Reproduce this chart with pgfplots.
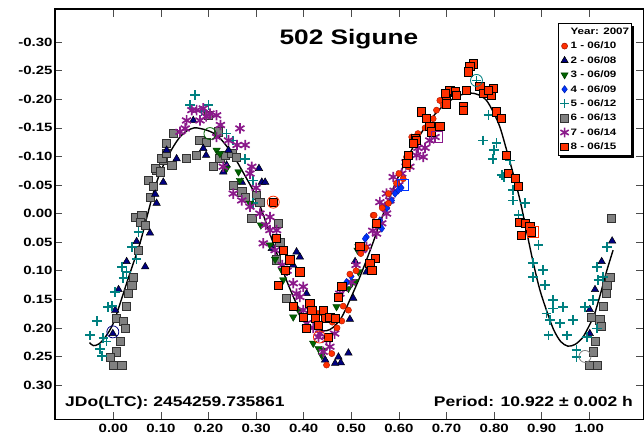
\documentclass[border=0pt]{standalone}
\usepackage{fontspec}
\setmainfont{Liberation Sans}[FakeStretch=1.25]
\usepackage{pgfplots}
\pgfplotsset{compat=1.18}
\usetikzlibrary{shadows}
\definecolor{cRed}{RGB}{255,48,0}
\definecolor{cRedE}{RGB}{170,20,0}
\definecolor{cNavy}{RGB}{0,0,128}
\definecolor{cGreen}{RGB}{0,100,0}
\definecolor{cBlue}{RGB}{0,51,255}
\definecolor{cTeal}{RGB}{0,128,128}
\definecolor{cGray}{RGB}{128,128,128}
\definecolor{cGrayE}{RGB}{50,50,50}
\definecolor{cPurple}{RGB}{139,26,139}
\begin{document}
\begin{tikzpicture}
\begin{axis}[
  scale only axis, width=588.5pt, height=410.3pt,
  xmin=-0.1225, xmax=1.1139, ymin=-0.358, ymax=0.36, y dir=reverse,
  axis line style={line width=1.3pt, black},
  tick align=inside, major tick length=7.5pt,
  tick style={black!70, line width=0.6pt},
  xtick={0,0.1,0.2,0.3,0.4,0.5,0.6,0.7,0.8,0.9,1.0},
  xticklabels={0.00,0.10,0.20,0.30,0.40,0.50,0.60,0.70,0.80,0.90,1.00},
  ytick={-0.30,-0.25,-0.20,-0.15,-0.10,-0.05,0,0.05,0.10,0.15,0.20,0.25,0.30},
  yticklabels={-0.30,-0.25,-0.20,-0.15,-0.10,-0.05,0.00,0.05,0.10,0.15,0.20,0.25,0.30},
  tick label style={font=\bfseries\fontsize{12}{12}\selectfont},
  yticklabel style={xshift=1pt},
  xticklabel style={yshift=-1pt},
  legend style={at={(axis cs:1.0897,-0.3332)}, anchor=north east,
    draw=black, line width=0.6pt, fill=white,
    font=\bfseries\fontsize{9.3}{10}\selectfont,
    row sep=0pt, inner sep=1pt,
    nodes={inner ysep=2pt, inner xsep=1.5pt, text height=8pt, text depth=2.4pt},
    drop shadow={shadow xshift=2.5pt, shadow yshift=-2.5pt, fill=black, opacity=1}},
  legend cell align=left,
  legend image code/.code={\draw[#1] plot coordinates {(0.2cm,0cm)};},
  legend entries={Year: 2007,1 - 06/10,2 - 06/08,3 - 06/09,4 - 06/09,5 - 06/12,6 - 06/13,7 - 06/14,8 - 06/15},
]
\addlegendimage{empty legend}
\addlegendimage{only marks, mark=*, mark size=3pt, mark options={fill=cRed, draw=cRedE}}
\addlegendimage{only marks, mark=triangle*, mark size=4pt, mark options={fill=cNavy, draw=black}}
\addlegendimage{only marks, mark=triangle*, mark size=4pt, mark options={fill=cGreen, draw=cGreen!60!black, rotate=180}}
\addlegendimage{only marks, mark=diamond*, mark size=3.6pt, mark options={fill=cBlue, draw=cBlue!70!black}}
\addlegendimage{only marks, mark=+, mark size=4.5pt, mark options={draw=cTeal, line width=1.6pt}}
\addlegendimage{only marks, mark=square*, mark size=3.8pt, mark options={fill=cGray, draw=cGrayE}}
\addlegendimage{only marks, mark=asterisk, mark size=4.8pt, mark options={draw=cPurple, line width=1.6pt}}
\addlegendimage{only marks, mark=square*, mark size=3.8pt, mark options={fill=cRed, draw=black}}

% 6 - gray squares
\addplot[forget plot, only marks, mark=square*, mark size=4.1pt, mark options={fill=cGray, draw=cGrayE, line width=0.7pt}] coordinates {
(0.046,0.006) (0.060,0.003) (0.056,0.015) (0.067,0.020) (0.053,0.064) (0.042,0.111) (0.039,0.125) (0.032,0.140) (0.028,0.162) (0.007,0.183) (0.021,0.188) (0.025,0.201) (0.014,0.224) (0.007,0.242) (-0.007,0.251) (0.000,0.265) (0.018,0.266)
(0.077,-0.029) (0.074,-0.058) (0.084,-0.047) (0.091,-0.076) (0.088,-0.079) (0.098,-0.073) (0.105,-0.093) (0.102,-0.096) (0.112,-0.105) (0.123,-0.085) (0.112,-0.123) (0.126,-0.140) (0.154,-0.096) (0.175,-0.102) (0.182,-0.128) (0.196,-0.125) (0.200,-0.172) (0.221,-0.143) (0.210,-0.082) (0.224,-0.096) (0.235,-0.102) (0.249,-0.105) (0.259,-0.099) (0.252,-0.050) (0.270,-0.038) (0.277,-0.029) (0.301,-0.032) (0.291,0.009) (0.308,-0.020) (0.347,0.017) (0.350,0.050) (0.343,0.081) (0.364,0.148)
(1.047,0.009) (1.043,0.111) (1.037,0.125) (1.035,0.140) (1.029,0.162) (1.005,0.181) (1.022,0.186) (1.026,0.198) (1.012,0.224) (1.008,0.242) (1.001,0.265) (1.017,0.266)
};
% 2 - navy triangles
\addplot[forget plot, only marks, mark=triangle*, mark size=4.3pt, mark options={fill=cNavy, draw=black, line width=0.5pt}] coordinates {
(0.091,-0.018) (0.077,0.034) (0.049,0.049) (0.028,0.084) (0.067,0.093) (0.011,0.133) (0.004,0.169) (-0.001,0.210) (0.088,-0.034) (0.105,-0.055) (0.112,-0.111) (0.133,-0.096) (0.168,-0.163) (0.189,-0.114) (0.195,-0.102) (0.231,-0.073) (0.238,-0.085) (0.270,-0.055) (0.306,-0.079) (0.312,-0.055) (0.319,-0.055) (0.242,-0.111) (0.333,0.061) (0.385,0.067) (0.378,0.090) (0.406,0.140) (0.392,0.076) (0.497,0.185) (0.494,0.244) (0.473,0.251) (0.478,0.261) (0.466,0.262) (0.445,0.256) (0.508,0.084) (0.504,0.148) (0.532,0.102)
(1.001,0.168) (1.012,0.133) (1.001,0.210) (1.026,0.084) (1.048,0.048)
};
% 5 - teal plus
\addplot[forget plot, only marks, mark=+, mark size=4.8pt, mark options={draw=cTeal, line width=1.7pt}] coordinates {
(0.053,0.032) (0.039,0.058) (0.049,0.079) (0.018,0.093) (0.028,0.102) (0.021,0.113) (0.004,0.137) (-0.011,0.164) (-0.003,0.162) (-0.034,0.188) (-0.049,0.213) (-0.021,0.218) (-0.028,0.237) (-0.024,0.249) (-0.014,0.224)
(0.172,-0.207) (0.161,-0.190) (0.200,-0.190) (0.185,-0.180) (0.238,-0.140) (0.252,-0.128) (0.277,-0.096) (0.294,-0.058) (0.294,-0.018)
(0.763,-0.233) (0.788,-0.172) (0.777,-0.128) (0.805,-0.123) (0.800,-0.111) (0.797,-0.096) (0.816,-0.067) (0.821,-0.064) (0.833,-0.093) (0.840,-0.041) (0.840,-0.023) (0.865,-0.018) (0.851,0.003) (0.893,0.055) (0.882,0.087) (0.903,0.099) (0.882,0.111) (0.907,0.125) (0.924,0.151) (0.945,0.163) (0.910,0.175) (0.938,0.192) (0.917,0.186) (0.953,0.213) (0.914,0.213) (0.966,0.186) (0.991,0.163) (0.973,0.239) (0.973,0.251) (0.995,0.216) (1.016,0.201) (1.008,0.151) (1.016,0.093) (1.029,0.111) (1.019,0.116) (1.037,0.058) (0.924,0.166)
};
% 3 - green triangles down
\addplot[forget plot, only marks, mark=triangle*, mark size=4.3pt, mark options={fill=cGreen, draw=cGreen!60!black, rotate=180}] coordinates {
(0.217,-0.111) (0.224,-0.105) (0.238,-0.079) (0.263,-0.073) (0.266,-0.058) (0.287,-0.018) (0.310,0.020) (0.329,0.055) (0.340,0.080) (0.354,0.099) (0.357,0.116) (0.378,0.181) (0.390,0.170) (0.406,0.198) (0.420,0.227) (0.431,0.236) (0.441,0.239) (0.438,0.248) (0.469,0.163) (0.494,0.131) (0.501,0.122) (0.515,0.102) (0.508,0.119) (0.515,0.058) (0.513,0.064)
};
% 7 - purple asterisks
\addplot[forget plot, only marks, mark=asterisk, mark size=5.2pt, mark options={draw=cPurple, line width=1.7pt}] coordinates {
(0.154,-0.163) (0.165,-0.181) (0.175,-0.181) (0.189,-0.184) (0.203,-0.175) (0.217,-0.172) (0.182,-0.163) (0.140,-0.143) (0.151,-0.149) (0.217,-0.134) (0.242,-0.128) (0.266,-0.149) (0.277,-0.120) (0.231,-0.082) (0.287,-0.070) (0.291,-0.082) (0.252,-0.035) (0.270,-0.023) (0.287,-0.012) (0.308,0.000) (0.329,0.006) (0.343,0.029) (0.315,0.052) (0.329,0.029) (0.340,0.064) (0.378,0.122) (0.392,0.146) (0.399,0.169) (0.399,0.128) (0.406,0.192) (0.434,0.210) (0.448,0.221) (0.455,0.233) (0.431,0.216) (0.441,0.242) (0.476,0.140) (0.483,0.131) (0.522,0.064) (0.532,0.058) (0.553,0.035) (0.564,0.017) (0.571,-0.012) (0.581,-0.023) (0.574,0.000) (0.588,-0.064) (0.606,-0.070) (0.623,-0.082) (0.637,-0.102) (0.651,-0.099) (0.665,-0.128) (0.676,-0.134) (0.574,-0.035)
(0.195,-0.170) (0.225,-0.155) (0.260,-0.120) (0.300,-0.045) (0.320,0.020) (0.355,0.090) (0.365,0.100) (0.385,0.140) (0.420,0.200) (0.465,0.210) (0.500,0.120) (0.510,0.090) (0.545,0.030) (0.560,-0.020) (0.590,-0.040) (0.600,-0.050) (0.615,-0.090) (0.640,-0.115) (0.655,-0.115)
};
% 4 - blue diamonds
\addplot[forget plot, only marks, mark=diamond*, mark size=3.8pt, mark options={fill=cBlue, draw=cBlue!70!black}] coordinates {
(0.599,-0.041) (0.592,-0.035) (0.585,-0.023) (0.564,0.026) (0.532,0.041) (0.529,0.044) (0.518,0.058) (0.560,0.012) (0.575,-0.010) (0.605,-0.045) (0.500,0.110) (0.490,0.120)
};
% 1 - red circles
\addplot[forget plot, only marks, mark=*, mark size=3.1pt, mark options={fill=cRed, draw=cRedE}] coordinates {
(0.679,-0.181) (0.686,-0.198) (0.693,-0.190) (0.672,-0.166) (0.671,-0.155) (0.627,-0.134) (0.616,-0.099) (0.620,-0.082) (0.609,-0.061) (0.595,-0.053) (0.578,-0.035) (0.578,-0.018) (0.546,0.003) (0.553,0.020) (0.548,0.003) (0.497,0.106) (0.494,0.169) (0.480,0.188) (0.483,0.162) (0.459,0.245) (0.448,0.265) (0.430,0.175) (0.460,0.190) (0.470,0.200) (0.520,0.070) (0.530,0.060) (0.655,-0.150) (0.640,-0.140) (0.600,-0.070) (0.565,-0.010) (0.510,0.100)
};
% 8 - red squares
\addplot[forget plot, only marks, mark=square*, mark size=4.1pt, mark options={fill=cRed, draw=black, line width=0.7pt}] coordinates {
(0.756,-0.262) (0.749,-0.257) (0.746,-0.248) (0.770,-0.222) (0.742,-0.216) (0.777,-0.210) (0.795,-0.207) (0.798,-0.219) (0.788,-0.216) (0.707,-0.216) (0.718,-0.213) (0.721,-0.207) (0.700,-0.201) (0.697,-0.210) (0.735,-0.187) (0.735,-0.181) (0.700,-0.192) (0.648,-0.178) (0.658,-0.166) (0.665,-0.152) (0.686,-0.152) (0.669,-0.143) (0.634,-0.131) (0.637,-0.128) (0.630,-0.123) (0.620,-0.102) (0.616,-0.088) (0.553,0.017) (0.805,-0.178) (0.816,-0.166) (0.826,-0.102) (0.830,-0.070) (0.844,-0.061) (0.851,-0.047) (0.854,0.015) (0.865,0.017) (0.875,0.023) (0.879,0.032) (0.858,0.038)
(0.518,0.058) (0.550,0.079) (0.539,0.087) (0.543,0.100) (0.480,0.127) (0.473,0.147) (0.413,0.157) (0.417,0.169) (0.441,0.169) (0.424,0.183) (0.445,0.183) (0.455,0.182) (0.466,0.183) (0.399,0.181) (0.406,0.201) (0.431,0.195) (0.452,0.216) (0.343,0.044) (0.357,0.064) (0.371,0.081) (0.392,0.102) (0.361,0.100) (0.347,0.125) (0.378,0.163) (0.336,-0.020)
};
% open first-point markers
\addplot[forget plot, only marks, mark=o, mark size=6pt, mark options={draw=cNavy, line width=0.8pt}] coordinates {(-0.001,0.207)};
\addplot[forget plot, only marks, mark=o, mark size=6pt, mark options={draw=cGreen, line width=0.8pt}] coordinates {(0.203,-0.140)};
\addplot[forget plot, only marks, mark=o, mark size=6pt, mark options={draw=cRed, line width=0.8pt}] coordinates {(0.336,-0.020) (0.433,0.216)};
\addplot[forget plot, only marks, mark=o, mark size=6pt, mark options={draw=cTeal, line width=0.8pt}] coordinates {(0.763,-0.233)};
\addplot[forget plot, only marks, mark=o, mark size=6pt, mark options={draw=cGray, line width=0.8pt}] coordinates {(0.991,0.250)};
\addplot[forget plot, only marks, mark=square, mark size=5.5pt, mark options={draw=cBlue, line width=0.8pt}] coordinates {(0.609,-0.050)};
\addplot[forget plot, only marks, mark=square, mark size=5.5pt, mark options={draw=cPurple, line width=0.8pt}] coordinates {(0.679,-0.134)};
\addplot[forget plot, only marks, mark=square, mark size=5.5pt, mark options={draw=cRed, line width=0.8pt}] coordinates {(0.882,0.032)};
% fitted curve
\addplot[forget plot, black, line width=1.4pt, smooth, no marks] coordinates {
(-0.050,0.226) (-0.042,0.231) (-0.030,0.228) (-0.015,0.214) (0.000,0.192) (0.014,0.158) (0.028,0.122) (0.042,0.087) (0.056,0.052) (0.070,0.008) (0.084,-0.036) (0.098,-0.071) (0.112,-0.096) (0.126,-0.117) (0.140,-0.134) (0.155,-0.145) (0.170,-0.150) (0.182,-0.149) (0.196,-0.146) (0.210,-0.141) (0.224,-0.132) (0.240,-0.116) (0.255,-0.098) (0.270,-0.076) (0.285,-0.054) (0.301,-0.029) (0.315,0.002) (0.329,0.035) (0.345,0.073) (0.364,0.117) (0.385,0.158) (0.406,0.190) (0.420,0.200) (0.434,0.204) (0.448,0.205) (0.462,0.199) (0.480,0.181) (0.497,0.151) (0.515,0.117) (0.532,0.081) (0.546,0.050) (0.560,0.017) (0.578,-0.023) (0.590,-0.048) (0.602,-0.070) (0.622,-0.104) (0.644,-0.137) (0.665,-0.163) (0.686,-0.183) (0.708,-0.198) (0.728,-0.207) (0.749,-0.211) (0.767,-0.208) (0.784,-0.198) (0.798,-0.178) (0.812,-0.152) (0.826,-0.112) (0.840,-0.070) (0.854,-0.025) (0.868,0.030) (0.882,0.085) (0.896,0.133) (0.910,0.169) (0.925,0.203) (0.940,0.224) (0.955,0.232) (0.970,0.229) (0.985,0.218) (0.995,0.204) (1.010,0.178) (1.022,0.145) (1.036,0.102) (1.050,0.064)
};
\node[anchor=base, font=\bfseries\fontsize{21}{21}\selectfont] at (axis cs:0.495,-0.296) {502 Sigune};
\node[anchor=base west, inner sep=0pt, font=\bfseries\fontsize{14}{14}\selectfont] at (axis cs:-0.1015,0.337) {JDo(LTC): 2454259.735861};
\node[anchor=base east, inner sep=0pt, font=\bfseries\fontsize{14}{14}\selectfont] at (axis cs:1.092,0.337) {Period: 10.922 ± 0.002 h};
\end{axis}
\pgfresetboundingbox
\path[use as bounding box] ([xshift=-55pt,yshift=-18.7pt]current axis.south west) rectangle ([xshift=0.5pt,yshift=9pt]current axis.north east);
\end{tikzpicture}
\end{document}
